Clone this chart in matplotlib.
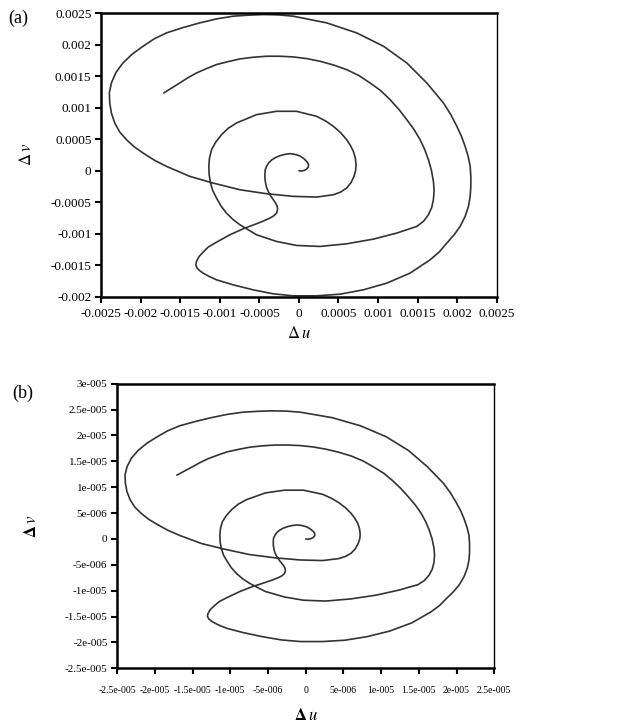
import matplotlib
matplotlib.use("Agg")
import matplotlib.pyplot as plt
import numpy as np

plt.rcParams['font.family'] = ['Liberation Serif', 'DejaVu Serif']
plt.rcParams['mathtext.fontset'] = 'stix'

# traced trajectory in units of 1e-4
# panel (b) shows the same path in units of 1e-6
du_pts = [0.00, 0.34, 0.68, 0.97, 1.18, 1.22, 1.05, 0.63, 0.13, -0.51, -1.14, -1.77, -2.41,
          -3.00, -3.46, -3.84, -4.09, -4.26, -4.30, -4.30, -4.22, -4.09, -3.88, -3.59, -3.25,
          -2.95, -2.74, -2.70, -2.83, -3.16, -3.67, -4.51, -5.36, -7.05, -8.73, -10.63, -11.48,
          -12.11, -12.62, -12.95, -13.04, -12.87, -12.53, -12.11, -11.35, -10.42, -8.31, -5.78,
          -3.25, -0.72, 2.24, 5.19, 8.14, 11.10, 14.05, 16.58, 17.76, 18.69, 19.62, 20.38, 21.01,
          21.43, 21.65, 21.73, 21.73, 21.65, 21.39, 21.01, 20.55, 19.96, 19.20, 18.27, 17.22,
          16.16, 14.89, 13.63, 12.15, 10.68, 8.99, 7.30, 5.40, 3.50, 1.39, -0.72, -2.62, -4.51,
          -6.41, -8.31, -10.42, -12.53, -14.64, -16.75, -18.31, -19.70, -21.05, -22.24, -23.12,
          -23.71, -23.97, -23.92, -23.71, -23.29, -22.66, -21.81, -20.84, -19.70, -18.31, -16.75,
          -13.80, -10.84, -7.47, -4.09, -0.72, 2.24, 4.35, 5.27, 6.03, 6.58, 6.96, 7.17, 7.22,
          7.13, 6.88, 6.50, 6.03, 5.27, 4.35, 3.38, 2.24, -0.30, -2.83, -5.36, -7.89, -8.95,
          -9.79, -10.51, -11.05, -11.31, -11.39, -11.35, -11.18, -10.89, -10.42, -9.87, -9.16,
          -8.35, -7.47, -5.36, -2.83, -0.30, 2.66, 6.03, 9.41, 12.36, 14.89, 15.74, 16.37, 16.79,
          17.00, 17.09, 17.00, 16.75, 16.37, 15.91, 15.32, 14.56, 13.63, 12.66, 11.52, 10.34,
          8.99, 7.59, 6.03, 4.35, 2.66, 0.97, -0.72, -2.41, -4.09, -5.78, -7.47, -8.95, -10.42,
          -11.69, -12.95, -14.01, -15.06, -17.09]
dv_pts = [0.00, -0.05, 0.05, 0.26, 0.58, 0.95, 1.38, 1.90, 2.33, 2.59, 2.70, 2.59, 2.38,
          2.06, 1.69, 1.22, 0.69, 0.16, -0.37, -1.16, -1.96, -2.65, -3.28, -3.97, -4.60,
          -5.13, -5.66, -6.19, -6.72, -7.14, -7.51, -7.99, -8.41, -9.21, -10.16, -11.48, -12.12,
          -12.91, -13.60, -14.39, -14.92, -15.45, -15.87, -16.24, -16.77, -17.30, -18.10, -18.89,
          -19.52, -19.84, -19.84, -19.58, -18.89, -17.83, -16.24, -14.13, -12.86, -11.48, -10.16,
          -8.84, -7.25, -5.66, -4.07, -2.49, -0.90, 0.69, 2.28, 3.86, 5.45, 7.04, 8.89, 10.74,
          12.33, 13.92, 15.50, 17.09, 18.41, 19.74, 20.79, 21.85, 22.65, 23.44, 23.97, 24.50,
          24.71, 24.76, 24.66, 24.50, 24.07, 23.44, 22.70, 21.85, 20.90, 19.74, 18.52, 17.09,
          15.61, 13.92, 12.33, 10.74, 9.15, 7.57, 6.14, 4.92, 3.81, 2.80, 1.69, 0.69, -0.90,
          -1.96, -3.02, -3.65, -4.07, -4.18, -3.81, -3.39, -2.75, -1.90, -0.90, 0.05, 0.95, 2.01,
          3.07, 4.02, 4.92, 6.03, 7.04, 7.88, 8.62, 9.42, 9.42, 8.89, 7.57, 6.72, 5.71, 4.55,
          3.33, 2.01, 0.69, -0.63, -1.96, -3.17, -4.34, -5.56, -6.72, -7.72, -8.57, -10.16,
          -11.22, -11.85, -12.01, -11.59, -10.85, -9.89, -8.84, -8.04, -6.98, -5.82, -4.60,
          -3.17, -1.69, 0.05, 1.75, 3.33, 4.92, 6.51, 8.10, 9.68, 11.27, 12.70, 13.92, 15.08,
          16.03, 16.77, 17.35, 17.78, 18.04, 18.15, 18.15, 17.99, 17.72, 17.30, 16.83, 16.19,
          15.50, 14.76, 13.92, 12.33]
unit_a = 1e-4
unit_b = 1e-6

xticks_a = [-0.0025, -0.002, -0.0015, -0.001, -0.0005, 0, 0.0005, 0.001, 0.0015, 0.002, 0.0025]
xlabels_a = ['-0.0025', '-0.002', '-0.0015', '-0.001', '-0.0005', '0', '0.0005', '0.001',
             '0.0015', '0.002', '0.0025']
yticks_a = [-0.002, -0.0015, -0.001, -0.0005, 0, 0.0005, 0.001, 0.0015, 0.002, 0.0025]
ylabels_a = ['-0.002', '-0.0015', '-0.001', '-0.0005', '0', '0.0005', '0.001', '0.0015',
             '0.002', '0.0025']
xticks_b = [-2.5e-5, -2e-5, -1.5e-5, -1e-5, -5e-6, 0, 5e-6, 1e-5, 1.5e-5, 2e-5, 2.5e-5]
xlabels_b = ['-2.5e-005', '-2e-005', '-1.5e-005', '-1e-005', '-5e-006', '0', '5e-006',
             '1e-005', '1.5e-005', '2e-005', '2.5e-005']
yticks_b = [-2.5e-5, -2e-5, -1.5e-5, -1e-5, -5e-6, 0, 5e-6, 1e-5, 1.5e-5, 2e-5, 2.5e-5, 3e-5]
ylabels_b = ['-2.5e-005', '-2e-005', '-1.5e-005', '-1e-005', '-5e-006', '0', '5e-006',
             '1e-005', '1.5e-005', '2e-005', '2.5e-005', '3e-005']

fig = plt.figure(figsize=(6.17, 7.24), dpi=100)

def style(ax, xt, xl, yt, yl, xfs, yfs, xpad):
    ax.set_xticks(xt)
    ax.set_xticklabels(xl, fontsize=xfs)
    ax.set_yticks(yt)
    ax.set_yticklabels(yl, fontsize=yfs)
    ax.set_xlim(xt[0], xt[-1])
    ax.set_ylim(yt[0], yt[-1])
    for s in ['left', 'bottom', 'top']:
        ax.spines[s].set_linewidth(1.8)
    ax.spines['right'].set_linewidth(1.0)
    ax.tick_params(direction='out', length=4, width=1.5, pad=3)
    ax.tick_params(axis='x', pad=xpad)

ax1 = fig.add_axes([0.164, 0.590, 0.641, 0.392])
ax1.plot(np.array(du_pts) * unit_a, np.array(dv_pts) * unit_a, color='#333333', lw=1.2,
         solid_joinstyle='round', solid_capstyle='round')
style(ax1, xticks_a, xlabels_a, yticks_a, ylabels_a, 9.5, 9.5, 4)
ax1.set_xlabel(r'$\Delta\,\mathit{u}$', fontsize=12, labelpad=4)
ax1.set_ylabel(r'$\Delta\,\mathit{v}$', fontsize=12, labelpad=11)
fig.text(0.013, 0.975, '(a)', fontsize=13, va='center')

ax2 = fig.add_axes([0.190, 0.077, 0.611, 0.393])
ax2.plot(np.array(du_pts) * unit_b, np.array(dv_pts) * unit_b, color='#333333', lw=1.2,
         solid_joinstyle='round', solid_capstyle='round')
style(ax2, xticks_b, xlabels_b, yticks_b, ylabels_b, 7, 8, 9)
ax2.set_xlabel(r'$\mathbf{\Delta}\,\mathit{u}$', fontsize=12, labelpad=9)
ax2.set_ylabel(r'$\mathbf{\Delta}\,\mathit{v}$', fontsize=12, labelpad=18)
fig.text(0.020, 0.457, '(b)', fontsize=13, va='center')

fig.savefig('out.png', dpi=100)
